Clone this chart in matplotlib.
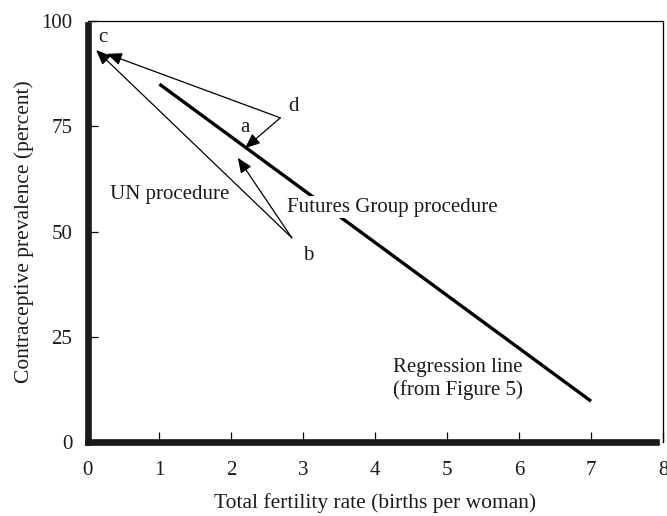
import matplotlib
matplotlib.use("Agg")
import matplotlib.pyplot as plt

# Data
regression_x = [1.0, 7.0]
regression_y = [85.0, 9.7]

point_names = ["a", "b", "c", "d"]
point_x = [2.19, 2.84, 0.12, 2.68]
point_y = [69.8, 48.5, 93.1, 77.0]

# arrows: (start point, end x, end y)
arrow_from = ["b", "b", "d", "d"]
arrow_to_x = [0.12, 2.09, 0.27, 2.19]
arrow_to_y = [93.1, 67.5, 92.2, 69.8]

label_x = [2.12, 3.00, 0.15, 2.79]
label_y = [74.8, 44.4, 96.0, 79.6]

xticks = [0, 1, 2, 3, 4, 5, 6, 7, 8]
yticks = [0, 25, 50, 75, 100]

plt.rcParams['font.family'] = ['Liberation Serif', 'DejaVu Serif']
txt_color = '#1a1a1a'

fig = plt.figure(figsize=(6.67, 5.16), dpi=100)
ax = fig.add_axes([0.1312, 0.1434, 0.8628, 0.8159])

ax.plot(regression_x, regression_y, color='black', lw=2.4, solid_capstyle='butt', zorder=2)

pts = dict(zip(point_names, zip(point_x, point_y)))
for src, tx, ty in zip(arrow_from, arrow_to_x, arrow_to_y):
    sx, sy = pts[src]
    ax.annotate("", xy=(tx, ty), xytext=(sx, sy),
                arrowprops=dict(arrowstyle='-|>,head_length=0.9,head_width=0.38',
                                color='black', lw=0.9, shrinkA=0, shrinkB=0),
                zorder=3)

for n, lx, ly in zip(point_names, label_x, label_y):
    ax.text(lx, ly, n, fontsize=15, ha='left', va='center', color=txt_color)

ax.text(0.31, 58.7, "UN procedure", fontsize=15, ha='left', va='center', color=txt_color)
ax.text(2.77, 55.8, "Futures Group procedure", fontsize=15, ha='left', va='center',
        color=txt_color, bbox=dict(facecolor='white', edgecolor='none', pad=1.0), zorder=4)
ax.text(4.25, 17.6, "Regression line", fontsize=15, ha='left', va='center', color=txt_color)
ax.text(4.25, 12.4, "(from Figure 5)", fontsize=15, ha='left', va='center', color=txt_color)

ax.set_xlim(0, 8)
ax.set_ylim(0, 100)
ax.set_xticks(xticks)
ax.set_yticks(yticks)
ax.set_xticklabels([str(v) for v in xticks])
ax.set_yticklabels([str(v) for v in yticks])
ax.tick_params(axis='both', direction='in', length=7, width=0.9, labelsize=15,
               labelcolor=txt_color)
ax.tick_params(axis='x', pad=14)
ax.tick_params(axis='y', pad=11)

ax.spines['left'].set_linewidth(4.8)
ax.spines['bottom'].set_linewidth(4.8)
ax.spines['left'].set_color('#1a1a1a')
ax.spines['bottom'].set_color('#1a1a1a')
ax.spines['left'].set_bounds(0, 99)
ax.spines['bottom'].set_bounds(0, 7.9)
ax.spines['left'].set_capstyle('projecting')
ax.spines['bottom'].set_capstyle('projecting')
ax.spines['top'].set_linewidth(0.9)
ax.spines['right'].set_linewidth(0.9)

ax.set_xlabel("Total fertility rate (births per woman)", fontsize=15.5, labelpad=9,
              color=txt_color)
ax.set_ylabel("Contraceptive prevalence (percent)", fontsize=15.5, labelpad=5,
              color=txt_color)

fig.savefig("out.png", dpi=100)
